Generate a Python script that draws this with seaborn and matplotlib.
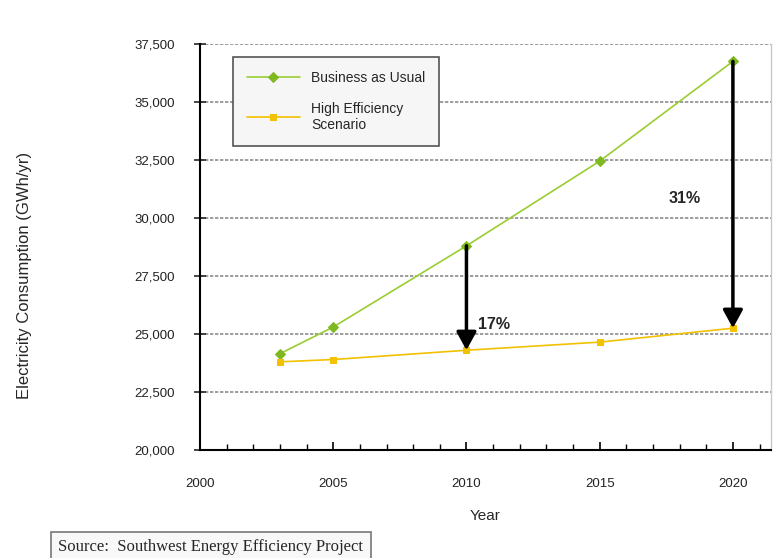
import matplotlib
matplotlib.use("Agg")
import matplotlib.pyplot as plt
import seaborn as sns
import pandas as pd

# values
years = [2003, 2005, 2010, 2015, 2020]
business_as_usual = [24150, 25300, 28800, 32450, 36750]
high_efficiency = [23800, 23900, 24300, 24650, 25250]
series_names = ["Business as Usual", "High Efficiency\nScenario"]
y_ticks = [20000, 22500, 25000, 27500, 30000, 32500, 35000, 37500]
x_ticks = [2000, 2005, 2010, 2015, 2020]
savings_labels = {2010: "17%", 2020: "31%"}

df = pd.DataFrame({
    "year": years * 2,
    "gwh": business_as_usual + high_efficiency,
    "scenario": [series_names[0]] * len(years) + [series_names[1]] * len(years),
})

sns.set_style("white")
plt.rcParams["font.family"] = ["Liberation Sans", "DejaVu Sans"]

fig = plt.figure(figsize=(7.76, 5.58), dpi=100)
ax = fig.add_axes([200 / 776, 1 - 450 / 558, 571 / 776, 406 / 558])

green = "#9acd32"
gold = "#f2c100"
sns.lineplot(data=df[df.scenario == series_names[0]], x="year", y="gwh", ax=ax,
             color=green, lw=1.2, marker="D", markersize=5,
             markerfacecolor="#7fb820", markeredgecolor="#7fb820",
             label=series_names[0])
sns.lineplot(data=df[df.scenario == series_names[1]], x="year", y="gwh", ax=ax,
             color=gold, lw=1.2, marker="s", markersize=5,
             markerfacecolor=gold, markeredgecolor=gold,
             label=series_names[1])

ax.set_xlim(2000, 2021.43)
ax.set_ylim(20000, 37500)
ax.set_yticks(y_ticks)
ax.set_yticklabels([f"{v:,}" for v in y_ticks], fontsize=9.5, color="#222222")
ax.set_xticks(x_ticks)
ax.set_xticklabels([str(v) for v in x_ticks], fontsize=9.5, color="#222222")
ax.set_xticks(range(2001, 2022), minor=True)
ax.tick_params(axis="y", left=True, direction="inout", length=8, width=1.2, pad=14)
ax.tick_params(axis="x", which="major", bottom=True, direction="in", length=6,
               width=1.2, pad=20, color="black")
ax.tick_params(axis="x", which="minor", bottom=True, direction="in", length=4,
               width=1, color="black")

ax.grid(axis="y", linestyle=(0, (2, 1)), color="#8c8c8c", lw=1.2)
ax.set_axisbelow(True)
for side in ["left", "bottom"]:
    ax.spines[side].set_color("black")
    ax.spines[side].set_linewidth(1.5)
ax.spines["top"].set_visible(False)
ax.spines["right"].set_color("#c8c8c8")
ax.spines["right"].set_linewidth(1)

ax.set_xlabel("Year", fontsize=11, labelpad=14)
ax.set_ylabel("Electricity Consumption (GWh/yr)", fontsize=12)
ax.yaxis.set_label_coords(-0.295, 0.43)

# savings arrows between the two scenarios
for yr, txt in savings_labels.items():
    i = years.index(yr)
    ax.annotate("", xy=(yr, high_efficiency[i]), xytext=(yr, business_as_usual[i]),
                arrowprops=dict(arrowstyle="-|>,head_length=1.1,head_width=0.6",
                                color="black", lw=2.5, shrinkA=0, shrinkB=0))
ax.text(2010.45, 25400, savings_labels[2010], fontsize=11.5, fontweight="bold", va="center")
ax.text(2017.6, 30850, savings_labels[2020], fontsize=11.5, fontweight="bold", va="center")

leg = ax.legend(loc="upper left", bbox_to_anchor=(0.058, 0.968), fontsize=10,
                frameon=True, fancybox=False, handlelength=3.8, borderpad=1.0,
                labelspacing=1.2, borderaxespad=0)
leg.get_frame().set_facecolor("#f6f6f6")
leg.get_frame().set_edgecolor("#555555")
leg.get_frame().set_linewidth(1.2)
leg.get_frame().set_alpha(1)

fig.text(58 / 776, 1 - 547 / 558, "Source:  Southwest Energy Efficiency Project",
         fontsize=12, family=["Liberation Serif", "DejaVu Serif"], va="center",
         bbox=dict(boxstyle="square,pad=0.45", facecolor="#f8f8f8",
                   edgecolor="#777777", lw=1.2))

fig.savefig("out.png", dpi=100)
